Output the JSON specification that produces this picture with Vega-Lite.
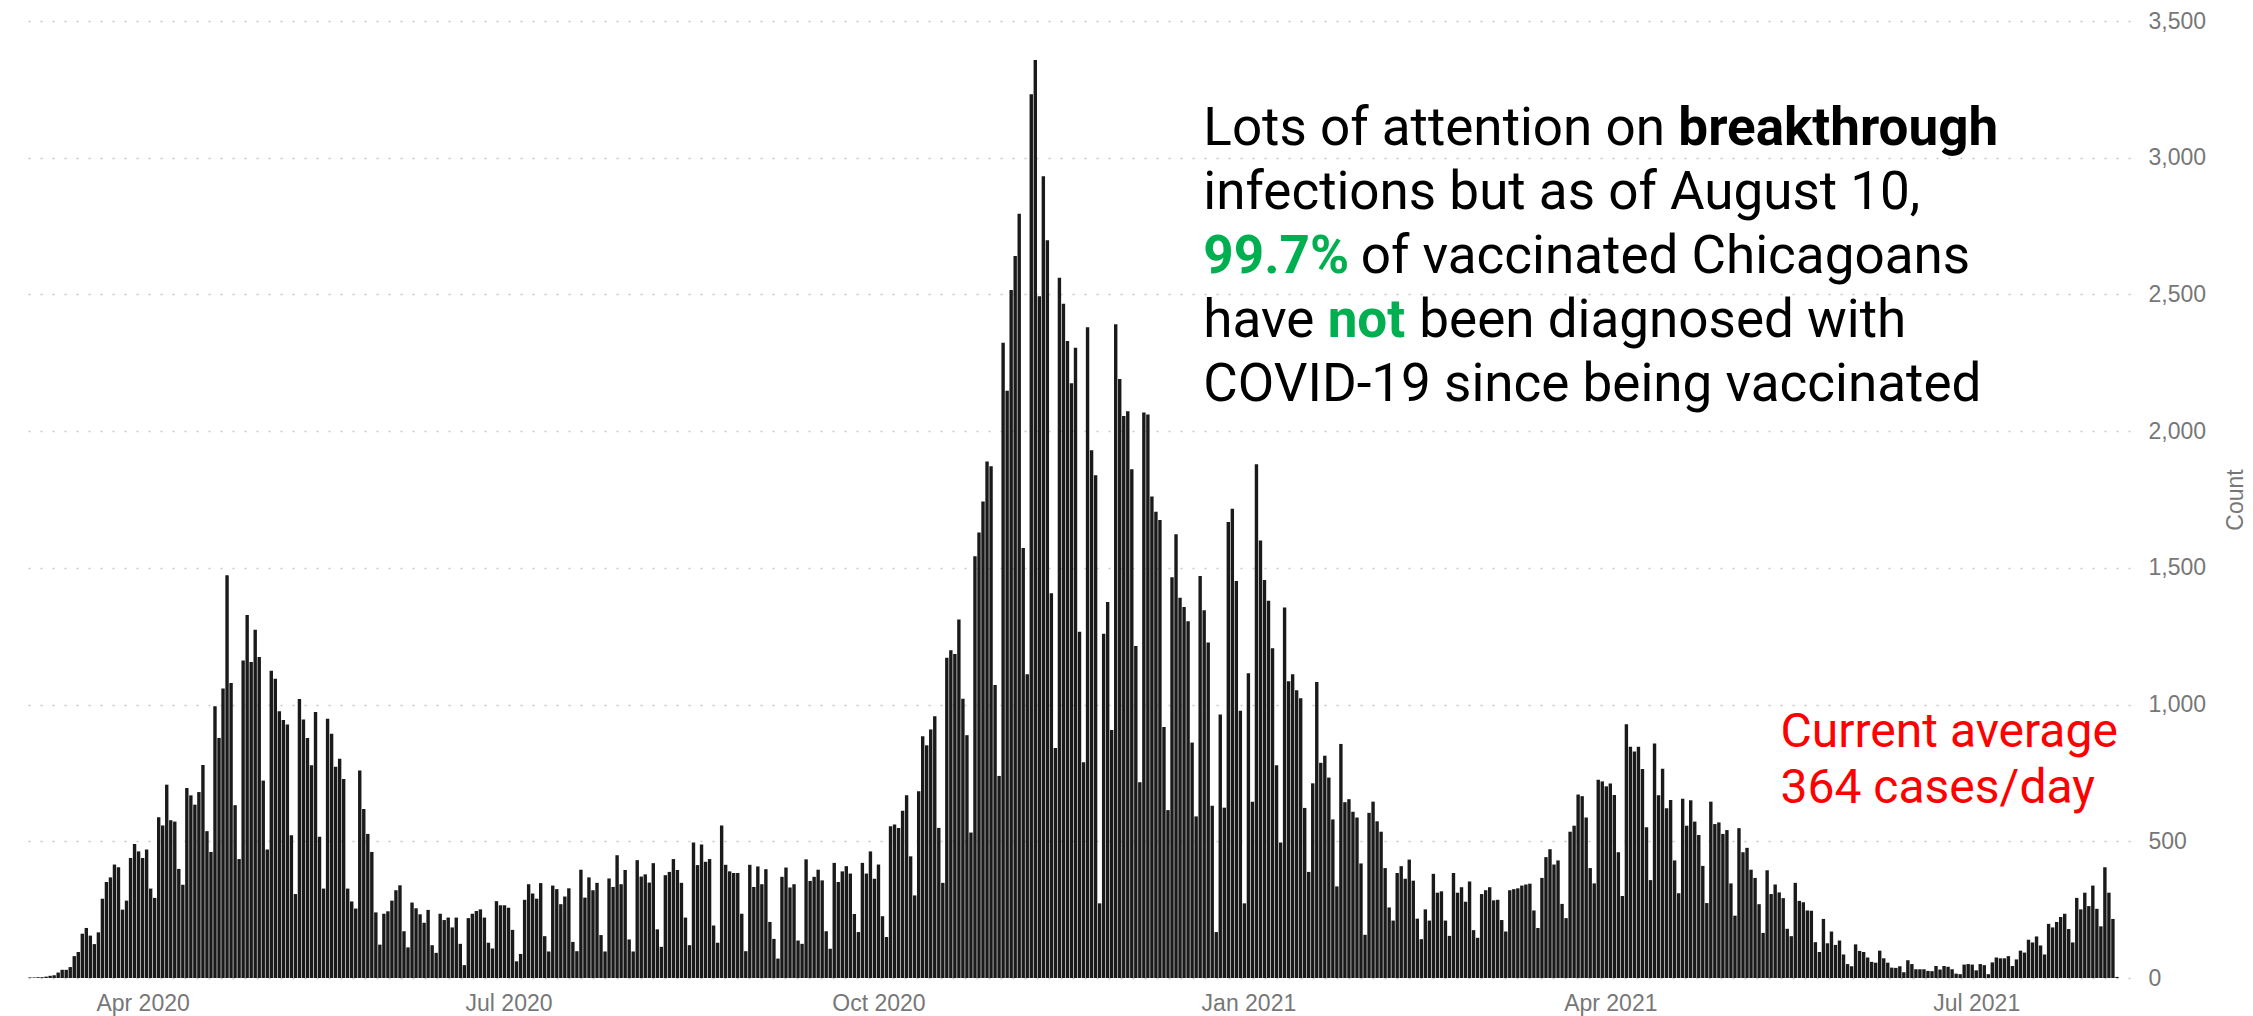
{
"$schema": "https://vega.github.io/schema/vega-lite/v6.json",
"width": 2109, "height": 957,
"autosize": {"type": "none"},
"padding": {"left": 21, "top": 21, "right": 123, "bottom": 38},
"background": "white",
"config": {"view": {"stroke": null}, "font": "Roboto"},
"layer": [
{"data": {"values": [
{"date":"2020-03-04","count":2},{"date":"2020-03-05","count":2},{"date":"2020-03-06","count":3},{"date":"2020-03-07","count":3},{"date":"2020-03-08","count":5},{"date":"2020-03-09","count":8},{"date":"2020-03-10","count":10},{"date":"2020-03-11","count":20},{"date":"2020-03-12","count":30},{"date":"2020-03-13","count":30},{"date":"2020-03-14","count":40},{"date":"2020-03-15","count":80},{"date":"2020-03-16","count":95},{"date":"2020-03-17","count":162},{"date":"2020-03-18","count":183},{"date":"2020-03-19","count":155},{"date":"2020-03-20","count":124},{"date":"2020-03-21","count":167},{"date":"2020-03-22","count":290},{"date":"2020-03-23","count":351},{"date":"2020-03-24","count":368},{"date":"2020-03-25","count":415},{"date":"2020-03-26","count":405},{"date":"2020-03-27","count":250},{"date":"2020-03-28","count":283},{"date":"2020-03-29","count":439},{"date":"2020-03-30","count":490},{"date":"2020-03-31","count":463},
{"date":"2020-04-01","count":439},{"date":"2020-04-02","count":470},{"date":"2020-04-03","count":327},{"date":"2020-04-04","count":293},{"date":"2020-04-05","count":588},{"date":"2020-04-06","count":558},{"date":"2020-04-07","count":707},{"date":"2020-04-08","count":577},{"date":"2020-04-09","count":572},{"date":"2020-04-10","count":399},{"date":"2020-04-11","count":341},{"date":"2020-04-12","count":695},{"date":"2020-04-13","count":668},{"date":"2020-04-14","count":634},{"date":"2020-04-15","count":680},{"date":"2020-04-16","count":779},{"date":"2020-04-17","count":537},{"date":"2020-04-18","count":461},{"date":"2020-04-19","count":994},{"date":"2020-04-20","count":878},{"date":"2020-04-21","count":1059},{"date":"2020-04-22","count":1473},{"date":"2020-04-23","count":1079},{"date":"2020-04-24","count":632},{"date":"2020-04-25","count":435},{"date":"2020-04-26","count":1161},{"date":"2020-04-27","count":1328},{"date":"2020-04-28","count":1156},{"date":"2020-04-29","count":1274},{"date":"2020-04-30","count":1174},
{"date":"2020-05-01","count":722},{"date":"2020-05-02","count":470},{"date":"2020-05-03","count":1124},{"date":"2020-05-04","count":1094},{"date":"2020-05-05","count":976},{"date":"2020-05-06","count":944},{"date":"2020-05-07","count":927},{"date":"2020-05-08","count":522},{"date":"2020-05-09","count":307},{"date":"2020-05-10","count":1020},{"date":"2020-05-11","count":945},{"date":"2020-05-12","count":878},{"date":"2020-05-13","count":778},{"date":"2020-05-14","count":973},{"date":"2020-05-15","count":517},{"date":"2020-05-16","count":327},{"date":"2020-05-17","count":948},{"date":"2020-05-18","count":893},{"date":"2020-05-19","count":773},{"date":"2020-05-20","count":802},{"date":"2020-05-21","count":728},{"date":"2020-05-22","count":327},{"date":"2020-05-23","count":280},{"date":"2020-05-24","count":254},{"date":"2020-05-25","count":759},{"date":"2020-05-26","count":618},{"date":"2020-05-27","count":527},{"date":"2020-05-28","count":461},{"date":"2020-05-29","count":240},{"date":"2020-05-30","count":122},{"date":"2020-05-31","count":235},
{"date":"2020-06-01","count":244},{"date":"2020-06-02","count":283},{"date":"2020-06-03","count":321},{"date":"2020-06-04","count":339},{"date":"2020-06-05","count":171},{"date":"2020-06-06","count":112},{"date":"2020-06-07","count":276},{"date":"2020-06-08","count":255},{"date":"2020-06-09","count":233},{"date":"2020-06-10","count":202},{"date":"2020-06-11","count":249},{"date":"2020-06-12","count":120},{"date":"2020-06-13","count":92},{"date":"2020-06-14","count":235},{"date":"2020-06-15","count":212},{"date":"2020-06-16","count":221},{"date":"2020-06-17","count":185},{"date":"2020-06-18","count":221},{"date":"2020-06-19","count":125},{"date":"2020-06-20","count":47},{"date":"2020-06-21","count":219},{"date":"2020-06-22","count":235},{"date":"2020-06-23","count":245},{"date":"2020-06-24","count":251},{"date":"2020-06-25","count":221},{"date":"2020-06-26","count":129},{"date":"2020-06-27","count":108},{"date":"2020-06-28","count":281},{"date":"2020-06-29","count":266},{"date":"2020-06-30","count":266},
{"date":"2020-07-01","count":257},{"date":"2020-07-02","count":176},{"date":"2020-07-03","count":61},{"date":"2020-07-04","count":88},{"date":"2020-07-05","count":286},{"date":"2020-07-06","count":343},{"date":"2020-07-07","count":309},{"date":"2020-07-08","count":290},{"date":"2020-07-09","count":347},{"date":"2020-07-10","count":153},{"date":"2020-07-11","count":97},{"date":"2020-07-12","count":338},{"date":"2020-07-13","count":325},{"date":"2020-07-14","count":270},{"date":"2020-07-15","count":298},{"date":"2020-07-16","count":328},{"date":"2020-07-17","count":132},{"date":"2020-07-18","count":98},{"date":"2020-07-19","count":396},{"date":"2020-07-20","count":294},{"date":"2020-07-21","count":368},{"date":"2020-07-22","count":321},{"date":"2020-07-23","count":348},{"date":"2020-07-24","count":157},{"date":"2020-07-25","count":97},{"date":"2020-07-26","count":364},{"date":"2020-07-27","count":333},{"date":"2020-07-28","count":449},{"date":"2020-07-29","count":343},{"date":"2020-07-30","count":395},{"date":"2020-07-31","count":141},
{"date":"2020-08-01","count":97},{"date":"2020-08-02","count":431},{"date":"2020-08-03","count":371},{"date":"2020-08-04","count":379},{"date":"2020-08-05","count":349},{"date":"2020-08-06","count":420},{"date":"2020-08-07","count":178},{"date":"2020-08-08","count":114},{"date":"2020-08-09","count":376},{"date":"2020-08-10","count":388},{"date":"2020-08-11","count":435},{"date":"2020-08-12","count":395},{"date":"2020-08-13","count":348},{"date":"2020-08-14","count":221},{"date":"2020-08-15","count":120},{"date":"2020-08-16","count":496},{"date":"2020-08-17","count":413},{"date":"2020-08-18","count":488},{"date":"2020-08-19","count":425},{"date":"2020-08-20","count":435},{"date":"2020-08-21","count":192},{"date":"2020-08-22","count":129},{"date":"2020-08-23","count":558},{"date":"2020-08-24","count":414},{"date":"2020-08-25","count":390},{"date":"2020-08-26","count":384},{"date":"2020-08-27","count":384},{"date":"2020-08-28","count":235},{"date":"2020-08-29","count":98},{"date":"2020-08-30","count":414},{"date":"2020-08-31","count":333},
{"date":"2020-09-01","count":408},{"date":"2020-09-02","count":343},{"date":"2020-09-03","count":398},{"date":"2020-09-04","count":205},{"date":"2020-09-05","count":143},{"date":"2020-09-06","count":71},{"date":"2020-09-07","count":370},{"date":"2020-09-08","count":404},{"date":"2020-09-09","count":331},{"date":"2020-09-10","count":343},{"date":"2020-09-11","count":137},{"date":"2020-09-12","count":125},{"date":"2020-09-13","count":434},{"date":"2020-09-14","count":355},{"date":"2020-09-15","count":370},{"date":"2020-09-16","count":396},{"date":"2020-09-17","count":357},{"date":"2020-09-18","count":171},{"date":"2020-09-19","count":107},{"date":"2020-09-20","count":421},{"date":"2020-09-21","count":351},{"date":"2020-09-22","count":390},{"date":"2020-09-23","count":409},{"date":"2020-09-24","count":382},{"date":"2020-09-25","count":234},{"date":"2020-09-26","count":168},{"date":"2020-09-27","count":421},{"date":"2020-09-28","count":382},{"date":"2020-09-29","count":463},{"date":"2020-09-30","count":363},
{"date":"2020-10-01","count":415},{"date":"2020-10-02","count":226},{"date":"2020-10-03","count":150},{"date":"2020-10-04","count":555},{"date":"2020-10-05","count":561},{"date":"2020-10-06","count":549},{"date":"2020-10-07","count":612},{"date":"2020-10-08","count":668},{"date":"2020-10-09","count":445},{"date":"2020-10-10","count":302},{"date":"2020-10-11","count":683},{"date":"2020-10-12","count":884},{"date":"2020-10-13","count":851},{"date":"2020-10-14","count":909},{"date":"2020-10-15","count":957},{"date":"2020-10-16","count":549},{"date":"2020-10-17","count":348},{"date":"2020-10-18","count":1171},{"date":"2020-10-19","count":1199},{"date":"2020-10-20","count":1185},{"date":"2020-10-21","count":1311},{"date":"2020-10-22","count":1021},{"date":"2020-10-23","count":888},{"date":"2020-10-24","count":532},{"date":"2020-10-25","count":1542},{"date":"2020-10-26","count":1629},{"date":"2020-10-27","count":1743},{"date":"2020-10-28","count":1889},{"date":"2020-10-29","count":1872},{"date":"2020-10-30","count":1072},{"date":"2020-10-31","count":739},
{"date":"2020-11-01","count":2323},{"date":"2020-11-02","count":2148},{"date":"2020-11-03","count":2516},{"date":"2020-11-04","count":2641},{"date":"2020-11-05","count":2795},{"date":"2020-11-06","count":1573},{"date":"2020-11-07","count":1111},{"date":"2020-11-08","count":3232},{"date":"2020-11-09","count":3357},{"date":"2020-11-10","count":2493},{"date":"2020-11-11","count":2932},{"date":"2020-11-12","count":2698},{"date":"2020-11-13","count":1407},{"date":"2020-11-14","count":841},{"date":"2020-11-15","count":2561},{"date":"2020-11-16","count":2466},{"date":"2020-11-17","count":2330},{"date":"2020-11-18","count":2175},{"date":"2020-11-19","count":2305},{"date":"2020-11-20","count":1266},{"date":"2020-11-21","count":789},{"date":"2020-11-22","count":2380},{"date":"2020-11-23","count":1930},{"date":"2020-11-24","count":1839},{"date":"2020-11-25","count":273},{"date":"2020-11-26","count":1259},{"date":"2020-11-27","count":1375},{"date":"2020-11-28","count":907},{"date":"2020-11-29","count":2391},{"date":"2020-11-30","count":2191},
{"date":"2020-12-01","count":2055},{"date":"2020-12-02","count":2073},{"date":"2020-12-03","count":1861},{"date":"2020-12-04","count":1214},{"date":"2020-12-05","count":716},{"date":"2020-12-06","count":2068},{"date":"2020-12-07","count":2061},{"date":"2020-12-08","count":1761},{"date":"2020-12-09","count":1705},{"date":"2020-12-10","count":1675},{"date":"2020-12-11","count":918},{"date":"2020-12-12","count":614},{"date":"2020-12-13","count":1466},{"date":"2020-12-14","count":1623},{"date":"2020-12-15","count":1391},{"date":"2020-12-16","count":1357},{"date":"2020-12-17","count":1305},{"date":"2020-12-18","count":861},{"date":"2020-12-19","count":591},{"date":"2020-12-20","count":1470},{"date":"2020-12-21","count":1345},{"date":"2020-12-22","count":1227},{"date":"2020-12-23","count":630},{"date":"2020-12-24","count":168},{"date":"2020-12-25","count":964},{"date":"2020-12-26","count":623},{"date":"2020-12-27","count":1668},{"date":"2020-12-28","count":1716},{"date":"2020-12-29","count":1452},{"date":"2020-12-30","count":977},{"date":"2020-12-31","count":273},
{"date":"2021-01-01","count":1115},{"date":"2021-01-02","count":645},{"date":"2021-01-03","count":1879},{"date":"2021-01-04","count":1600},{"date":"2021-01-05","count":1456},{"date":"2021-01-06","count":1380},{"date":"2021-01-07","count":1206},{"date":"2021-01-08","count":778},{"date":"2021-01-09","count":496},{"date":"2021-01-10","count":1355},{"date":"2021-01-11","count":1085},{"date":"2021-01-12","count":1111},{"date":"2021-01-13","count":1052},{"date":"2021-01-14","count":1023},{"date":"2021-01-15","count":622},{"date":"2021-01-16","count":388},{"date":"2021-01-17","count":712},{"date":"2021-01-18","count":1083},{"date":"2021-01-19","count":787},{"date":"2021-01-20","count":813},{"date":"2021-01-21","count":733},{"date":"2021-01-22","count":580},{"date":"2021-01-23","count":335},{"date":"2021-01-24","count":856},{"date":"2021-01-25","count":643},{"date":"2021-01-26","count":654},{"date":"2021-01-27","count":608},{"date":"2021-01-28","count":587},{"date":"2021-01-29","count":419},{"date":"2021-01-30","count":158},{"date":"2021-01-31","count":604},
{"date":"2021-02-01","count":645},{"date":"2021-02-02","count":573},{"date":"2021-02-03","count":535},{"date":"2021-02-04","count":402},{"date":"2021-02-05","count":258},{"date":"2021-02-06","count":210},{"date":"2021-02-07","count":384},{"date":"2021-02-08","count":409},{"date":"2021-02-09","count":363},{"date":"2021-02-10","count":433},{"date":"2021-02-11","count":356},{"date":"2021-02-12","count":217},{"date":"2021-02-13","count":142},{"date":"2021-02-14","count":251},{"date":"2021-02-15","count":210},{"date":"2021-02-16","count":381},{"date":"2021-02-17","count":312},{"date":"2021-02-18","count":317},{"date":"2021-02-19","count":210},{"date":"2021-02-20","count":154},{"date":"2021-02-21","count":384},{"date":"2021-02-22","count":312},{"date":"2021-02-23","count":332},{"date":"2021-02-24","count":279},{"date":"2021-02-25","count":353},{"date":"2021-02-26","count":175},{"date":"2021-02-27","count":147},{"date":"2021-02-28","count":307},
{"date":"2021-03-01","count":321},{"date":"2021-03-02","count":332},{"date":"2021-03-03","count":284},{"date":"2021-03-04","count":286},{"date":"2021-03-05","count":212},{"date":"2021-03-06","count":170},{"date":"2021-03-07","count":321},{"date":"2021-03-08","count":325},{"date":"2021-03-09","count":328},{"date":"2021-03-10","count":338},{"date":"2021-03-11","count":342},{"date":"2021-03-12","count":345},{"date":"2021-03-13","count":247},{"date":"2021-03-14","count":183},{"date":"2021-03-15","count":366},{"date":"2021-03-16","count":442},{"date":"2021-03-17","count":471},{"date":"2021-03-18","count":415},{"date":"2021-03-19","count":430},{"date":"2021-03-20","count":271},{"date":"2021-03-21","count":219},{"date":"2021-03-22","count":535},{"date":"2021-03-23","count":557},{"date":"2021-03-24","count":671},{"date":"2021-03-25","count":665},{"date":"2021-03-26","count":587},{"date":"2021-03-27","count":402},{"date":"2021-03-28","count":346},{"date":"2021-03-29","count":725},{"date":"2021-03-30","count":719},{"date":"2021-03-31","count":701},
{"date":"2021-04-01","count":711},{"date":"2021-04-02","count":669},{"date":"2021-04-03","count":460},{"date":"2021-04-04","count":300},{"date":"2021-04-05","count":928},{"date":"2021-04-06","count":846},{"date":"2021-04-07","count":828},{"date":"2021-04-08","count":846},{"date":"2021-04-09","count":764},{"date":"2021-04-10","count":551},{"date":"2021-04-11","count":358},{"date":"2021-04-12","count":858},{"date":"2021-04-13","count":668},{"date":"2021-04-14","count":765},{"date":"2021-04-15","count":621},{"date":"2021-04-16","count":651},{"date":"2021-04-17","count":430},{"date":"2021-04-18","count":310},{"date":"2021-04-19","count":656},{"date":"2021-04-20","count":557},{"date":"2021-04-21","count":650},{"date":"2021-04-22","count":572},{"date":"2021-04-23","count":523},{"date":"2021-04-24","count":410},{"date":"2021-04-25","count":274},{"date":"2021-04-26","count":645},{"date":"2021-04-27","count":563},{"date":"2021-04-28","count":569},{"date":"2021-04-29","count":527},{"date":"2021-04-30","count":541},
{"date":"2021-05-01","count":346},{"date":"2021-05-02","count":228},{"date":"2021-05-03","count":548},{"date":"2021-05-04","count":460},{"date":"2021-05-05","count":476},{"date":"2021-05-06","count":396},{"date":"2021-05-07","count":366},{"date":"2021-05-08","count":270},{"date":"2021-05-09","count":165},{"date":"2021-05-10","count":394},{"date":"2021-05-11","count":307},{"date":"2021-05-12","count":342},{"date":"2021-05-13","count":313},{"date":"2021-05-14","count":292},{"date":"2021-05-15","count":180},{"date":"2021-05-16","count":153},{"date":"2021-05-17","count":348},{"date":"2021-05-18","count":282},{"date":"2021-05-19","count":277},{"date":"2021-05-20","count":247},{"date":"2021-05-21","count":246},{"date":"2021-05-22","count":131},{"date":"2021-05-23","count":95},{"date":"2021-05-24","count":216},{"date":"2021-05-25","count":127},{"date":"2021-05-26","count":170},{"date":"2021-05-27","count":121},{"date":"2021-05-28","count":137},{"date":"2021-05-29","count":86},{"date":"2021-05-30","count":51},{"date":"2021-05-31","count":43},
{"date":"2021-06-01","count":123},{"date":"2021-06-02","count":99},{"date":"2021-06-03","count":95},{"date":"2021-06-04","count":75},{"date":"2021-06-05","count":59},{"date":"2021-06-06","count":56},{"date":"2021-06-07","count":100},{"date":"2021-06-08","count":72},{"date":"2021-06-09","count":56},{"date":"2021-06-10","count":38},{"date":"2021-06-11","count":37},{"date":"2021-06-12","count":43},{"date":"2021-06-13","count":21},{"date":"2021-06-14","count":65},{"date":"2021-06-15","count":51},{"date":"2021-06-16","count":32},{"date":"2021-06-17","count":32},{"date":"2021-06-18","count":32},{"date":"2021-06-19","count":26},{"date":"2021-06-20","count":25},{"date":"2021-06-21","count":44},{"date":"2021-06-22","count":31},{"date":"2021-06-23","count":44},{"date":"2021-06-24","count":41},{"date":"2021-06-25","count":32},{"date":"2021-06-26","count":16},{"date":"2021-06-27","count":14},{"date":"2021-06-28","count":49},{"date":"2021-06-29","count":51},{"date":"2021-06-30","count":49},
{"date":"2021-07-01","count":28},{"date":"2021-07-02","count":51},{"date":"2021-07-03","count":47},{"date":"2021-07-04","count":14},{"date":"2021-07-05","count":57},{"date":"2021-07-06","count":75},{"date":"2021-07-07","count":72},{"date":"2021-07-08","count":72},{"date":"2021-07-09","count":80},{"date":"2021-07-10","count":44},{"date":"2021-07-11","count":68},{"date":"2021-07-12","count":100},{"date":"2021-07-13","count":93},{"date":"2021-07-14","count":140},{"date":"2021-07-15","count":130},{"date":"2021-07-16","count":152},{"date":"2021-07-17","count":119},{"date":"2021-07-18","count":86},{"date":"2021-07-19","count":198},{"date":"2021-07-20","count":185},{"date":"2021-07-21","count":205},{"date":"2021-07-22","count":223},{"date":"2021-07-23","count":235},{"date":"2021-07-24","count":179},{"date":"2021-07-25","count":130},{"date":"2021-07-26","count":293},{"date":"2021-07-27","count":251},{"date":"2021-07-28","count":312},{"date":"2021-07-29","count":263},{"date":"2021-07-30","count":338},{"date":"2021-07-31","count":253},
{"date":"2021-08-01","count":189},{"date":"2021-08-02","count":405},{"date":"2021-08-03","count":312},{"date":"2021-08-04","count":216},{"date":"2021-08-05","count":4}
]},
"mark": {"type": "bar", "width": 3.4, "color": "#1a1a1a"},
"encoding": {
"x": {"field": "date", "type": "temporal",
 "scale": {"type": "utc", "domain": [{"year":2020,"month":3,"date":3,"utc":true},{"year":2021,"month":8,"date":7,"utc":true}]},
 "axis": {"title": null, "labelExpr": "utcFormat(datum.value, '%b %Y')",
  "values": [{"year":2020,"month":4,"date":1,"utc":true},{"year":2020,"month":7,"date":1,"utc":true},{"year":2020,"month":10,"date":1,"utc":true},{"year":2021,"month":1,"date":1,"utc":true},{"year":2021,"month":4,"date":1,"utc":true},{"year":2021,"month":7,"date":1,"utc":true}],
  "labelFontSize": 23, "labelColor": "#777777", "labelFont": "Liberation Sans", "domain": false, "ticks": false, "tickSize": 0, "grid": false, "labelPadding": 14, "labelFlush": false, "labelOverlap": false}},
"y": {"field": "count", "type": "quantitative",
 "scale": {"domain": [0, 3500], "nice": false},
 "axis": {"orient": "right", "title": "Count", "values": [0,500,1000,1500,2000,2500,3000,3500], "format": ",d",
  "labelFontSize": 23, "labelColor": "#777777", "labelFont": "Liberation Sans", "domain": false, "ticks": false, "tickSize": 0,
  "grid": true, "gridColor": "#c9c9c9", "gridDash": [2, 10], "gridWidth": 1.5, "labelPadding": 18, "labelFlush": false,
  "titleAngle": 270, "titleBaseline": "alphabetic", "titleFontSize": 23, "titleFontWeight": "normal", "titleColor": "#777777", "titleFont": "Liberation Sans", "titlePadding": 37}}
}},
{"data": {"values": [{}]}, "mark": {"type": "text", "text": "Lots of attention on", "align": "left", "baseline": "alphabetic", "font": "Roboto", "fontSize": 53, "color": "#000000"},
 "encoding": {"x": {"datum": {"year":2020,"month":12,"date":20,"hours":19,"utc":true}, "type": "temporal"}, "y": {"datum": 3047, "type": "quantitative"}}},
{"data": {"values": [{}]}, "mark": {"type": "text", "text": "breakthrough", "align": "left", "baseline": "alphabetic", "font": "Roboto", "fontSize": 53, "fontWeight": "bold", "color": "#000000"},
 "encoding": {"x": {"datum": {"year":2021,"month":4,"date":17,"hours":22,"utc":true}, "type": "temporal"}, "y": {"datum": 3047, "type": "quantitative"}}},
{"data": {"values": [{}]}, "mark": {"type": "text", "text": "infections but as of August 10,", "align": "left", "baseline": "alphabetic", "font": "Roboto", "fontSize": 53, "color": "#000000"},
 "encoding": {"x": {"datum": {"year":2020,"month":12,"date":20,"hours":19,"utc":true}, "type": "temporal"}, "y": {"datum": 2813, "type": "quantitative"}}},
{"data": {"values": [{}]}, "mark": {"type": "text", "text": "99.7%", "align": "left", "baseline": "alphabetic", "font": "Roboto", "fontSize": 53, "fontWeight": "bold", "color": "#00b050"},
 "encoding": {"x": {"datum": {"year":2020,"month":12,"date":20,"hours":19,"utc":true}, "type": "temporal"}, "y": {"datum": 2579, "type": "quantitative"}}},
{"data": {"values": [{}]}, "mark": {"type": "text", "text": "of vaccinated Chicagoans", "align": "left", "baseline": "alphabetic", "font": "Roboto", "fontSize": 53, "color": "#000000"},
 "encoding": {"x": {"datum": {"year":2021,"month":1,"date":28,"hours":22,"utc":true}, "type": "temporal"}, "y": {"datum": 2579, "type": "quantitative"}}},
{"data": {"values": [{}]}, "mark": {"type": "text", "text": "have", "align": "left", "baseline": "alphabetic", "font": "Roboto", "fontSize": 53, "color": "#000000"},
 "encoding": {"x": {"datum": {"year":2020,"month":12,"date":20,"hours":19,"utc":true}, "type": "temporal"}, "y": {"datum": 2345, "type": "quantitative"}}},
{"data": {"values": [{}]}, "mark": {"type": "text", "text": "not", "align": "left", "baseline": "alphabetic", "font": "Roboto", "fontSize": 53, "fontWeight": "bold", "color": "#00b050"},
 "encoding": {"x": {"datum": {"year":2021,"month":1,"date":20,"hours":17,"utc":true}, "type": "temporal"}, "y": {"datum": 2345, "type": "quantitative"}}},
{"data": {"values": [{}]}, "mark": {"type": "text", "text": "been diagnosed with", "align": "left", "baseline": "alphabetic", "font": "Roboto", "fontSize": 53, "color": "#000000"},
 "encoding": {"x": {"datum": {"year":2021,"month":2,"date":12,"hours":12,"utc":true}, "type": "temporal"}, "y": {"datum": 2345, "type": "quantitative"}}},
{"data": {"values": [{}]}, "mark": {"type": "text", "text": "COVID-19 since being vaccinated", "align": "left", "baseline": "alphabetic", "font": "Roboto", "fontSize": 53, "color": "#000000"},
 "encoding": {"x": {"datum": {"year":2020,"month":12,"date":20,"hours":19,"utc":true}, "type": "temporal"}, "y": {"datum": 2111, "type": "quantitative"}}},
{"data": {"values": [{}]}, "mark": {"type": "text", "text": "Current average", "align": "left", "baseline": "alphabetic", "font": "Roboto", "fontSize": 48, "color": "#ff0000"},
 "encoding": {"x": {"datum": {"year":2021,"month":5,"date":13,"hours":8,"utc":true}, "type": "temporal"}, "y": {"datum": 845, "type": "quantitative"}}},
{"data": {"values": [{}]}, "mark": {"type": "text", "text": "364 cases/day", "align": "left", "baseline": "alphabetic", "font": "Roboto", "fontSize": 48, "color": "#ff0000"},
 "encoding": {"x": {"datum": {"year":2021,"month":5,"date":13,"hours":8,"utc":true}, "type": "temporal"}, "y": {"datum": 640, "type": "quantitative"}}}
]
}
